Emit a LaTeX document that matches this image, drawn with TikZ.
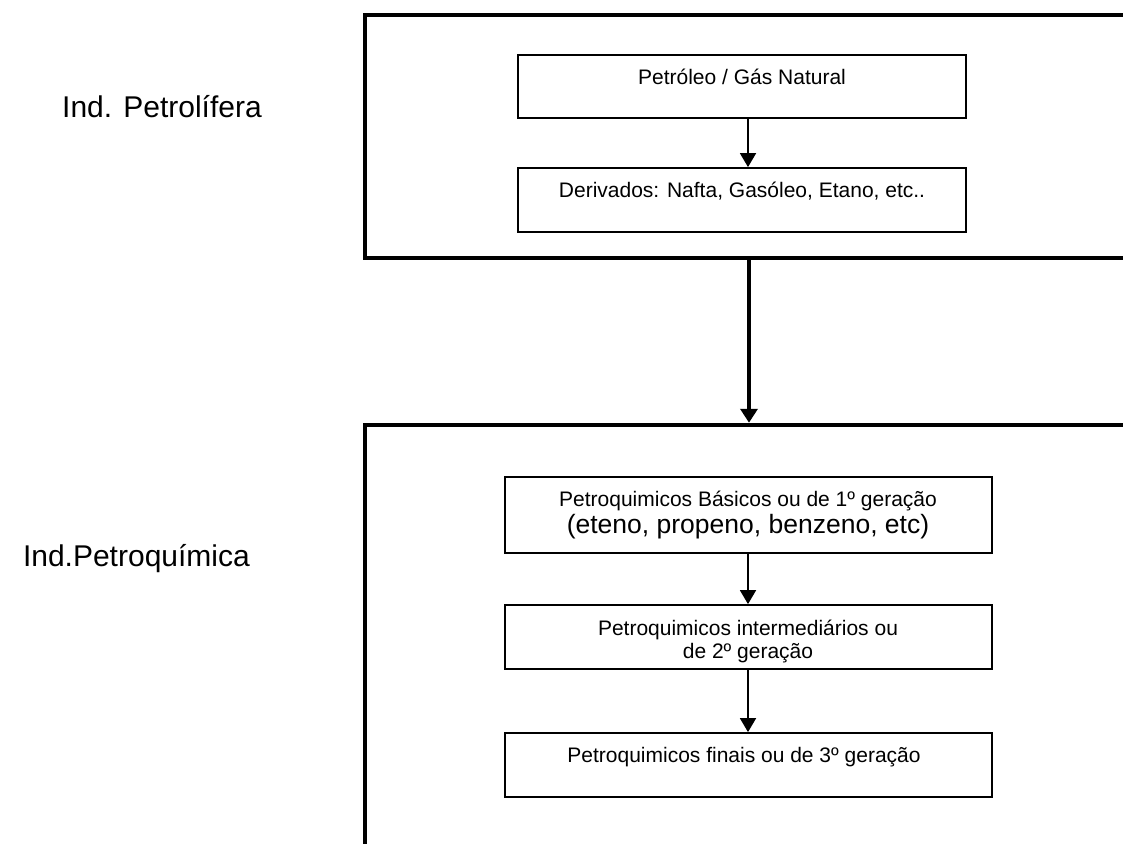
\documentclass[tikz,border=0pt]{standalone}
\usepackage{fontspec}
\setmainfont{Liberation Sans}
\usetikzlibrary{arrows.meta}
\begin{document}
\begin{tikzpicture}[x=1pt,y=-1pt,
  frame/.style={draw, line width=4.5pt, inner sep=0pt, minimum width=775pt},
  stage/.style={draw, line width=1.8pt, inner sep=0pt},
  txt/.style={inner sep=0pt, anchor=base, font=\fontsize{21}{23}\selectfont},
  side/.style={inner sep=0pt, font=\fontsize{30}{34}\selectfont},
  flow/.style={line width=1.8pt, -{Triangle[width=16pt,length=14pt]}},
  bigflow/.style={line width=4pt, -{Triangle[width=17pt,length=14pt]}}]
\useasboundingbox (0,0) rectangle (1123,843);

% column of the connectors
\coordinate (col) at (748,0);

% industry frames (they run off the right and bottom edges)
\node[frame, minimum height=243pt] (indA) at (752.5,136.5) {};
\node[frame, minimum height=445pt] (indB) at (752.5,647.5) {};

% side labels
\node[side, anchor=base west] (labA) at (62,117) {Ind. Petrolífera};
\node[side, anchor=base east] (labB) at (250,566) {Ind.Petroquímica};

% oil industry stages
\node[stage, minimum width=448pt, minimum height=63pt] (b1) at (742,86.5) {};
\node[txt] (t1) at (742,84) {Petróleo / Gás Natural};
\node[stage, minimum width=448pt, minimum height=64pt] (b2) at (742,200) {};
\node[txt] (t2) at (742,197) {Derivados: Nafta, Gasóleo, Etano, etc..};

% petrochemical stages
\node[stage, minimum width=487pt, minimum height=76pt] (b3) at (748.5,515) {};
\node[txt] (t3a) at (748,506) {Petroquimicos Básicos ou de 1º geração};
\node[txt, font=\fontsize{26.5}{28}\selectfont] (t3b) at (748,533) {(eteno, propeno, benzeno, etc)};
\node[stage, minimum width=487pt, minimum height=64pt] (b4) at (748.5,637) {};
\node[txt] (t4a) at (748,635) {Petroquimicos intermediários ou};
\node[txt] (t4b) at (748,658) {de 2º geração};
\node[stage, minimum width=487pt, minimum height=64pt] (b5) at (748.5,765) {};
\node[txt] (t5) at (744,762) {Petroquimicos finais ou de 3º geração};

% connectors
\draw[flow] (b1.south -| col) -- (b2.north -| col);
\draw[bigflow] ([xshift=1pt]indA.south -| col) -- ([xshift=1pt]indB.north -| col);
\draw[flow] (b3.south -| col) -- (b4.north -| col);
\draw[flow] (b4.south -| col) -- (b5.north -| col);
\end{tikzpicture}
\end{document}
